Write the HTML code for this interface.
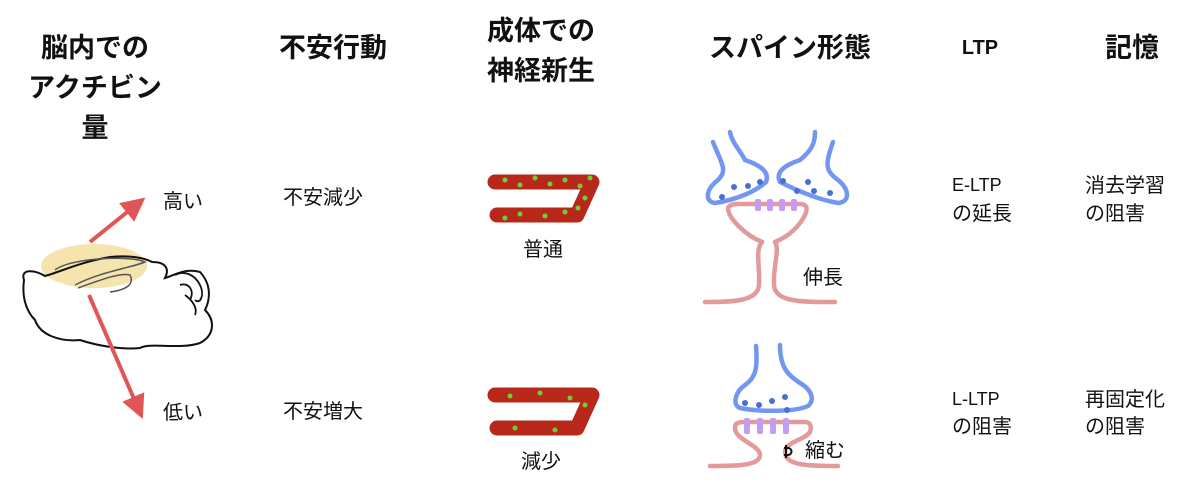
<!DOCTYPE html>
<html><head><meta charset="utf-8"><style>
body{margin:0;width:1200px;height:491px;background:#fff;position:relative;overflow:hidden;font-family:"Liberation Sans","Noto Sans CJK JP",sans-serif;color:#111}
.t{position:absolute;white-space:nowrap;line-height:1}
.h{font-weight:bold;font-size:27px;text-align:center}
.b{font-size:20px}
</style></head><body>
<svg width="1200" height="491" style="position:absolute;left:0;top:0">
<defs>
<marker id="ar" markerWidth="6" markerHeight="6" refX="3" refY="3" orient="auto" markerUnits="strokeWidth"><path d="M0,0 L6,3 L0,6z" fill="#e05555"/></marker>
</defs>
<!-- brain -->
<ellipse cx="94" cy="266" rx="53" ry="22" fill="#f3dfa0" opacity="0.85"/>
<path d="M24,280 C20,268 35,270 45,276 C60,272 80,262 110,257 C130,255 145,258 152,262 C165,262 170,268 165,278 C175,275 185,268 200,272 C212,285 210,300 205,310 C215,320 215,335 200,343 C180,350 150,342 140,348 C120,350 95,345 80,340 C60,342 40,335 35,320 C25,310 22,295 24,280 Z" fill="none" stroke="#111" stroke-width="2"/>
<path d="M55,270 C70,258 130,255 145,262 C130,268 100,272 75,285" fill="none" stroke="#555" stroke-width="1.5"/>
<path d="M78,288 C95,282 120,272 130,275 C135,285 125,290 110,292" fill="none" stroke="#555" stroke-width="1.5"/>
<path d="M175,275 C185,270 195,275 200,285 C205,295 200,305 195,300 M180,285 C188,282 195,290 190,300 M185,295 C192,300 198,308 195,315" fill="none" stroke="#111" stroke-width="1.8"/>
<line x1="90" y1="242" x2="136" y2="205" stroke="#e05555" stroke-width="4" marker-end="url(#ar)"/>
<line x1="89" y1="295" x2="138" y2="408" stroke="#e05555" stroke-width="4" marker-end="url(#ar)"/>
<!-- neurogenesis -->
<g fill="none" stroke-linecap="round" stroke-linejoin="round">
<path d="M495,182 L592,182 L577,215 L497,215" stroke="#b8281a" stroke-width="15"/>
<path d="M495,395 L592,395 L577,428 L497,428" stroke="#b8281a" stroke-width="15"/>
</g>
<g fill="#6ccf3c">
<circle cx="505" cy="180" r="2.5"/><circle cx="520" cy="185" r="2.5"/><circle cx="535" cy="178" r="2.5"/><circle cx="550" cy="184" r="2.5"/><circle cx="565" cy="180" r="2.5"/><circle cx="580" cy="186" r="2.5"/><circle cx="590" cy="178" r="2.5"/><circle cx="585" cy="198" r="2.5"/><circle cx="578" cy="208" r="2.5"/><circle cx="565" cy="212" r="2.5"/><circle cx="545" cy="216" r="2.5"/><circle cx="520" cy="214" r="2.5"/><circle cx="505" cy="218" r="2.5"/>
<circle cx="510" cy="396" r="2.5"/><circle cx="540" cy="393" r="2.5"/><circle cx="570" cy="398" r="2.5"/><circle cx="585" cy="405" r="2.5"/><circle cx="555" cy="430" r="2.5"/><circle cx="515" cy="428" r="2.5"/>
</g>
<!-- spine top -->
<g fill="none" stroke-width="4.5" stroke-linecap="round">
<path d="M713,142 C722,165 728,170 718,180 C705,190 705,202 715,203 C735,200 755,192 766,182 C770,172 760,165 745,160 C740,150 732,143 730,132" stroke="#7296f2"/>
<path d="M833,142 C825,165 825,170 838,180 C850,190 850,202 838,203 C820,200 800,192 780,182 C775,172 785,165 800,160 C812,150 815,143 815,132" stroke="#7296f2"/>
<path d="M705,302 C730,302 758,302 759,285 C760,265 755,250 762,242 M775,242 C780,250 773,265 774,285 C775,302 800,302 835,302" stroke="#e29a9a"/>
<path d="M762,242 C745,235 728,218 728,208 C730,204 735,204 740,204 L800,204 C807,204 808,208 805,215 C800,225 790,236 775,242" stroke="#e29a9a"/>
</g>
<g fill="#c69cf2"><rect x="755" y="199" width="6" height="12" rx="2"/><rect x="767" y="199" width="6" height="12" rx="2"/><rect x="779" y="199" width="6" height="12" rx="2"/><rect x="791" y="199" width="6" height="12" rx="2"/></g>
<g fill="#4a6fd0"><circle cx="722" cy="197" r="3"/><circle cx="734" cy="187" r="3"/><circle cx="748" cy="186" r="3"/><circle cx="760" cy="182" r="3"/><circle cx="783" cy="181" r="3"/><circle cx="797" cy="191" r="3"/><circle cx="808" cy="182" r="3"/><circle cx="814" cy="191" r="3"/><circle cx="830" cy="193" r="3"/></g>
<!-- spine bottom -->
<g fill="none" stroke-width="4.5" stroke-linecap="round">
<path d="M756,346 C758,370 755,378 745,385 C735,392 732,405 740,408 C760,412 795,412 808,406 C815,400 812,390 800,383 C790,376 780,370 780,345" stroke="#7296f2"/>
<path d="M710,466 C735,466 760,466 760,455 C760,445 735,440 735,428 C735,422 740,422 745,422 L805,422 C810,422 812,426 810,432 C805,440 785,442 785,452 C785,466 810,466 838,466" stroke="#e29a9a"/>
</g>
<g fill="#c69cf2"><rect x="744" y="418" width="6" height="16" rx="2"/><rect x="757" y="418" width="6" height="16" rx="2"/><rect x="770" y="418" width="6" height="16" rx="2"/><rect x="783" y="418" width="6" height="16" rx="2"/></g>
<g fill="#4a6fd0"><circle cx="745" cy="403" r="3"/><circle cx="759" cy="405" r="3"/><circle cx="772" cy="401" r="3"/><circle cx="785" cy="397" r="3"/><circle cx="787" cy="410" r="3"/></g>
<path d="M784,448 l4,0 a3,3 0 0 1 0,7 l-4,0 M786,445 l0,13" stroke="#111" stroke-width="2" fill="none"/>
</svg>
<div class="t h" style="left:20px;top:35px;width:150px">脳内での</div>
<div class="t h" style="left:15px;top:75px;width:160px">アクチビン</div>
<div class="t h" style="left:20px;top:115px;width:150px">量</div>
<div class="t h" style="left:258px;top:35px;width:150px">不安行動</div>
<div class="t h" style="left:466px;top:18px;width:150px">成体での</div>
<div class="t h" style="left:466px;top:58px;width:150px">神経新生</div>
<div class="t h" style="left:690px;top:35px;width:200px">スパイン形態</div>
<div class="t h" style="left:940px;top:38px;width:80px;font-size:20px">LTP</div>
<div class="t h" style="left:1082px;top:35px;width:100px">記憶</div>
<div class="t b" style="left:163px;top:192px">高い</div>
<div class="t b" style="left:163px;top:403px">低い</div>
<div class="t b" style="left:283px;top:188px">不安減少</div>
<div class="t b" style="left:283px;top:402px">不安増大</div>
<div class="t b" style="left:523px;top:240px">普通</div>
<div class="t b" style="left:521px;top:452px">減少</div>
<div class="t b" style="left:803px;top:268px">伸長</div>
<div class="t b" style="left:805px;top:441px">縮む</div>
<div class="t b" style="left:952px;top:176px;font-size:18px">E-LTP</div>
<div class="t b" style="left:952px;top:204px">の延長</div>
<div class="t b" style="left:952px;top:390px;font-size:18px">L-LTP</div>
<div class="t b" style="left:952px;top:417px">の阻害</div>
<div class="t b" style="left:1085px;top:176px">消去学習</div>
<div class="t b" style="left:1085px;top:204px">の阻害</div>
<div class="t b" style="left:1085px;top:390px">再固定化</div>
<div class="t b" style="left:1085px;top:417px">の阻害</div>
</body></html>
